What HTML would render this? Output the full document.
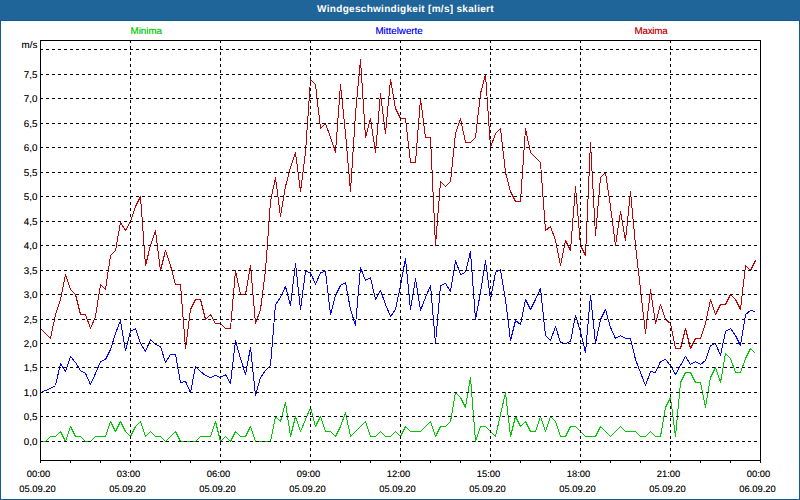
<!DOCTYPE html>
<html><head><meta charset="utf-8"><title>Windgeschwindigkeit</title>
<style>
html,body{margin:0;padding:0;}
body{text-rendering:geometricPrecision;width:800px;height:500px;overflow:hidden;background:#fff;font-family:"Liberation Sans",sans-serif;}
#wrap{position:relative;width:800px;height:500px;background:#fff;overflow:hidden;}
#hdr{position:absolute;left:0;top:0;width:800px;height:21px;background:#1f659a;border-bottom:1px solid #115b93;box-sizing:border-box;}
#ttl{position:absolute;left:0;top:3px;width:811px;text-align:center;color:#fff;font-weight:bold;font-size:10px;letter-spacing:0.3px;line-height:14px;white-space:nowrap;}
.bl{position:absolute;background:#115b93;}
.yl{text-shadow:0 0 0 rgba(0,0,0,0.4);position:absolute;left:0;width:37.4px;text-align:right;font-size:9.8px;line-height:13px;color:#000;white-space:nowrap;}
.xl{text-shadow:0 0 0 rgba(0,0,0,0.4);position:absolute;width:60px;text-align:center;font-size:9.4px;line-height:13px;color:#000;white-space:nowrap;}
.lg{position:absolute;top:25px;width:100px;text-align:center;font-size:9.8px;line-height:13px;white-space:nowrap;}
</style></head><body>
<div id="wrap">
<div id="hdr"></div>
<div id="ttl">Windgeschwindigkeit [m/s] skaliert</div>
<div class="bl" style="left:0;top:21px;width:1px;height:479px"></div>
<div class="bl" style="left:799px;top:21px;width:1px;height:479px"></div>
<div class="bl" style="left:0;top:499px;width:800px;height:1px"></div>
<div class="lg" style="left:96.3px;color:#00c800;text-shadow:0 0 0 rgba(0,200,0,0.5)">Minima</div>
<div class="lg" style="left:349.1px;color:#0000ff;text-shadow:0 0 0 rgba(0,0,255,0.5)">Mittelwerte</div>
<div class="lg" style="left:601px;letter-spacing:-0.2px;color:#c00000;text-shadow:0 0 0 rgba(192,0,0,0.5)">Maxima</div>
<svg width="800" height="500" viewBox="0 0 800 500" style="position:absolute;left:0;top:0" shape-rendering="crispEdges">
<polyline fill="none" stroke-linejoin="bevel" stroke="#00c800" stroke-width="1" points="40.5,441.5 45.5,441.5 50.5,436.5 55.5,436.5 60.5,431.5 65.5,441.5 70.5,426.5 75.5,436.5 80.5,436.5 85.5,441.5 90.5,441.5 95.5,436.5 100.5,436.5 105.5,436.5 110.5,421.5 115.5,431.5 120.5,421.5 125.5,431.5 130.5,436.5 135.5,426.5 140.5,421.5 145.5,436.5 150.5,431.5 155.5,436.5 160.5,436.5 165.5,441.5 170.5,436.5 175.5,431.5 180.5,441.5 185.5,441.5 190.5,441.5 195.5,441.5 200.5,436.5 205.5,436.5 210.5,436.5 215.5,421.5 220.5,441.5 225.5,436.5 230.5,441.5 235.5,431.5 240.5,436.5 245.5,436.5 250.5,426.5 255.5,441.5 260.5,441.5 265.5,441.5 270.5,441.5 275.5,416.5 280.5,421.5 285.5,402.5 290.5,436.5 295.5,416.5 300.5,431.5 305.5,419.5 310.5,407.5 315.5,426.5 320.5,416.5 325.5,431.5 330.5,431.5 335.5,436.5 340.5,426.5 345.5,412.5 350.5,436.5 355.5,431.5 360.5,426.5 365.5,421.5 370.5,436.5 375.5,436.5 380.5,431.5 385.5,436.5 390.5,436.5 395.5,431.5 400.5,436.5 405.5,426.5 410.5,431.5 415.5,431.5 420.5,431.5 425.5,426.5 430.5,421.5 435.5,436.5 440.5,426.5 445.5,426.5 450.5,421.5 455.5,392.5 460.5,397.5 465.5,407.5 470.5,377.5 475.5,441.5 480.5,426.5 485.5,426.5 490.5,431.5 495.5,436.5 500.5,414.5 505.5,392.5 510.5,436.5 515.5,416.5 520.5,426.5 525.5,421.5 530.5,431.5 535.5,431.5 540.5,416.5 545.5,431.5 550.5,416.5 555.5,421.5 560.5,436.5 565.5,436.5 570.5,426.5 575.5,426.5 580.5,431.5 585.5,436.5 590.5,436.5 595.5,436.5 600.5,426.5 605.5,431.5 610.5,436.5 615.5,431.5 620.5,426.5 625.5,431.5 630.5,431.5 635.5,431.5 640.5,436.5 645.5,436.5 650.5,431.5 655.5,436.5 660.5,436.5 665.5,407.5 670.5,397.5 675.5,436.5 680.5,382.5 685.5,372.5 690.5,372.5 695.5,382.5 700.5,382.5 705.5,407.5 710.5,377.5 715.5,367.5 720.5,382.5 725.5,353.5 730.5,358.5 735.5,372.5 740.5,372.5 745.5,358.5 750.5,348.5 755.5,353.5"/>
<polyline fill="none" stroke-linejoin="bevel" stroke="#0000ff" stroke-width="1" points="40.5,392.5 45.5,390.5 50.5,388.5 55.5,385.5 60.5,363.5 65.5,371.5 70.5,356.5 75.5,362.5 80.5,370.5 85.5,373.5 90.5,384.5 95.5,373.5 100.5,361.5 105.5,359.5 110.5,349.5 115.5,333.5 120.5,320.5 125.5,350.5 130.5,331.5 135.5,328.5 140.5,343.5 145.5,351.5 150.5,339.5 155.5,344.5 160.5,346.5 165.5,362.5 170.5,354.5 175.5,354.5 180.5,382.5 185.5,381.5 190.5,392.5 195.5,366.5 200.5,371.5 205.5,375.5 210.5,377.5 215.5,375.5 220.5,377.5 225.5,374.5 230.5,383.5 235.5,340.5 240.5,358.5 245.5,374.5 250.5,347.5 255.5,395.5 260.5,377.5 265.5,370.5 270.5,365.5 275.5,304.5 280.5,297.5 285.5,286.5 290.5,305.5 295.5,263.5 300.5,309.5 305.5,271.5 310.5,272.5 315.5,284.5 320.5,272.5 325.5,271.5 330.5,314.5 335.5,295.5 340.5,285.5 345.5,282.5 350.5,309.5 355.5,325.5 360.5,267.5 365.5,280.5 370.5,277.5 375.5,299.5 380.5,290.5 385.5,304.5 390.5,316.5 395.5,309.5 400.5,285.5 405.5,258.5 410.5,309.5 415.5,278.5 420.5,310.5 425.5,297.5 430.5,285.5 435.5,343.5 440.5,285.5 445.5,283.5 450.5,291.5 455.5,260.5 460.5,274.5 465.5,272.5 470.5,251.5 475.5,319.5 480.5,292.5 485.5,260.5 490.5,299.5 495.5,272.5 500.5,269.5 505.5,299.5 510.5,340.5 515.5,320.5 520.5,324.5 525.5,299.5 530.5,309.5 535.5,299.5 540.5,288.5 545.5,335.5 550.5,340.5 555.5,326.5 560.5,342.5 565.5,343.5 570.5,341.5 575.5,315.5 580.5,331.5 585.5,352.5 590.5,295.5 595.5,343.5 600.5,319.5 605.5,309.5 610.5,327.5 615.5,338.5 620.5,335.5 625.5,338.5 630.5,338.5 635.5,359.5 640.5,372.5 645.5,385.5 650.5,371.5 655.5,372.5 660.5,361.5 665.5,359.5 670.5,365.5 675.5,374.5 680.5,365.5 685.5,356.5 690.5,364.5 695.5,361.5 700.5,364.5 705.5,360.5 710.5,345.5 715.5,343.5 720.5,355.5 725.5,331.5 730.5,328.5 735.5,335.5 740.5,345.5 745.5,314.5 750.5,310.5 755.5,311.5"/>
<polyline fill="none" stroke-linejoin="bevel" stroke="#c00000" stroke-width="1" points="40.5,328.5 45.5,333.5 50.5,338.5 55.5,314.5 60.5,299.5 65.5,274.5 70.5,289.5 75.5,294.5 80.5,314.5 85.5,314.5 90.5,328.5 95.5,316.5 100.5,284.5 105.5,289.5 110.5,255.5 115.5,250.5 120.5,222.5 125.5,230.5 130.5,221.5 135.5,206.5 140.5,196.5 145.5,265.5 150.5,245.5 155.5,230.5 160.5,270.5 165.5,250.5 170.5,265.5 175.5,284.5 180.5,284.5 185.5,348.5 190.5,309.5 195.5,299.5 200.5,299.5 205.5,319.5 210.5,314.5 215.5,323.5 220.5,323.5 225.5,328.5 230.5,328.5 235.5,270.5 240.5,294.5 245.5,294.5 250.5,265.5 255.5,323.5 260.5,309.5 265.5,270.5 270.5,201.5 275.5,177.5 280.5,216.5 285.5,186.5 290.5,167.5 295.5,152.5 300.5,191.5 305.5,152.5 310.5,79.5 315.5,84.5 320.5,128.5 325.5,123.5 330.5,137.5 335.5,152.5 340.5,84.5 345.5,133.5 350.5,191.5 355.5,113.5 360.5,59.5 365.5,137.5 370.5,118.5 375.5,152.5 380.5,93.5 385.5,133.5 390.5,79.5 395.5,108.5 400.5,118.5 405.5,118.5 410.5,162.5 415.5,162.5 420.5,98.5 425.5,137.5 430.5,137.5 435.5,245.5 440.5,181.5 445.5,186.5 450.5,181.5 455.5,133.5 460.5,118.5 465.5,142.5 470.5,142.5 475.5,137.5 480.5,93.5 485.5,74.5 490.5,147.5 495.5,133.5 500.5,128.5 505.5,172.5 510.5,191.5 515.5,201.5 520.5,201.5 525.5,128.5 530.5,152.5 535.5,157.5 540.5,162.5 545.5,230.5 550.5,226.5 555.5,240.5 560.5,265.5 565.5,240.5 570.5,250.5 575.5,186.5 580.5,245.5 585.5,255.5 590.5,142.5 595.5,235.5 600.5,177.5 605.5,172.5 610.5,206.5 615.5,245.5 620.5,211.5 625.5,240.5 630.5,191.5 635.5,245.5 640.5,289.5 645.5,333.5 650.5,289.5 655.5,323.5 660.5,304.5 665.5,319.5 670.5,323.5 675.5,348.5 680.5,348.5 685.5,328.5 690.5,348.5 695.5,338.5 700.5,338.5 705.5,323.5 710.5,299.5 715.5,314.5 720.5,304.5 725.5,304.5 730.5,294.5 735.5,299.5 740.5,309.5 745.5,265.5 750.5,270.5 755.5,260.5"/>
<line x1="40" y1="441.5" x2="760" y2="441.5" stroke="#000" stroke-width="1" stroke-dasharray="3 3"/>
<line x1="40" y1="416.5" x2="760" y2="416.5" stroke="#000" stroke-width="1" stroke-dasharray="3 3"/>
<line x1="40" y1="392.5" x2="760" y2="392.5" stroke="#000" stroke-width="1" stroke-dasharray="3 3"/>
<line x1="40" y1="367.5" x2="760" y2="367.5" stroke="#000" stroke-width="1" stroke-dasharray="3 3"/>
<line x1="40" y1="343.5" x2="760" y2="343.5" stroke="#000" stroke-width="1" stroke-dasharray="3 3"/>
<line x1="40" y1="319.5" x2="760" y2="319.5" stroke="#000" stroke-width="1" stroke-dasharray="3 3"/>
<line x1="40" y1="294.5" x2="760" y2="294.5" stroke="#000" stroke-width="1" stroke-dasharray="3 3"/>
<line x1="40" y1="270.5" x2="760" y2="270.5" stroke="#000" stroke-width="1" stroke-dasharray="3 3"/>
<line x1="40" y1="245.5" x2="760" y2="245.5" stroke="#000" stroke-width="1" stroke-dasharray="3 3"/>
<line x1="40" y1="221.5" x2="760" y2="221.5" stroke="#000" stroke-width="1" stroke-dasharray="3 3"/>
<line x1="40" y1="196.5" x2="760" y2="196.5" stroke="#000" stroke-width="1" stroke-dasharray="3 3"/>
<line x1="40" y1="172.5" x2="760" y2="172.5" stroke="#000" stroke-width="1" stroke-dasharray="3 3"/>
<line x1="40" y1="147.5" x2="760" y2="147.5" stroke="#000" stroke-width="1" stroke-dasharray="3 3"/>
<line x1="40" y1="123.5" x2="760" y2="123.5" stroke="#000" stroke-width="1" stroke-dasharray="3 3"/>
<line x1="40" y1="98.5" x2="760" y2="98.5" stroke="#000" stroke-width="1" stroke-dasharray="3 3"/>
<line x1="40" y1="74.5" x2="760" y2="74.5" stroke="#000" stroke-width="1" stroke-dasharray="3 3"/>
<line x1="40" y1="49.5" x2="760" y2="49.5" stroke="#000" stroke-width="1" stroke-dasharray="3 3"/>
<line x1="130.5" y1="40" x2="130.5" y2="460" stroke="#000" stroke-width="1" stroke-dasharray="3 3"/>
<line x1="220.5" y1="40" x2="220.5" y2="460" stroke="#000" stroke-width="1" stroke-dasharray="3 3"/>
<line x1="310.5" y1="40" x2="310.5" y2="460" stroke="#000" stroke-width="1" stroke-dasharray="3 3"/>
<line x1="400.5" y1="40" x2="400.5" y2="460" stroke="#000" stroke-width="1" stroke-dasharray="3 3"/>
<line x1="490.5" y1="40" x2="490.5" y2="460" stroke="#000" stroke-width="1" stroke-dasharray="3 3"/>
<line x1="580.5" y1="40" x2="580.5" y2="460" stroke="#000" stroke-width="1" stroke-dasharray="3 3"/>
<line x1="670.5" y1="40" x2="670.5" y2="460" stroke="#000" stroke-width="1" stroke-dasharray="3 3"/>
<line x1="40.5" y1="460" x2="40.5" y2="463" stroke="#000" stroke-width="1"/>
<line x1="70.5" y1="460" x2="70.5" y2="463" stroke="#000" stroke-width="1"/>
<line x1="100.5" y1="460" x2="100.5" y2="463" stroke="#000" stroke-width="1"/>
<line x1="130.5" y1="460" x2="130.5" y2="463" stroke="#000" stroke-width="1"/>
<line x1="160.5" y1="460" x2="160.5" y2="463" stroke="#000" stroke-width="1"/>
<line x1="190.5" y1="460" x2="190.5" y2="463" stroke="#000" stroke-width="1"/>
<line x1="220.5" y1="460" x2="220.5" y2="463" stroke="#000" stroke-width="1"/>
<line x1="250.5" y1="460" x2="250.5" y2="463" stroke="#000" stroke-width="1"/>
<line x1="280.5" y1="460" x2="280.5" y2="463" stroke="#000" stroke-width="1"/>
<line x1="310.5" y1="460" x2="310.5" y2="463" stroke="#000" stroke-width="1"/>
<line x1="340.5" y1="460" x2="340.5" y2="463" stroke="#000" stroke-width="1"/>
<line x1="370.5" y1="460" x2="370.5" y2="463" stroke="#000" stroke-width="1"/>
<line x1="400.5" y1="460" x2="400.5" y2="463" stroke="#000" stroke-width="1"/>
<line x1="430.5" y1="460" x2="430.5" y2="463" stroke="#000" stroke-width="1"/>
<line x1="460.5" y1="460" x2="460.5" y2="463" stroke="#000" stroke-width="1"/>
<line x1="490.5" y1="460" x2="490.5" y2="463" stroke="#000" stroke-width="1"/>
<line x1="520.5" y1="460" x2="520.5" y2="463" stroke="#000" stroke-width="1"/>
<line x1="550.5" y1="460" x2="550.5" y2="463" stroke="#000" stroke-width="1"/>
<line x1="580.5" y1="460" x2="580.5" y2="463" stroke="#000" stroke-width="1"/>
<line x1="610.5" y1="460" x2="610.5" y2="463" stroke="#000" stroke-width="1"/>
<line x1="640.5" y1="460" x2="640.5" y2="463" stroke="#000" stroke-width="1"/>
<line x1="670.5" y1="460" x2="670.5" y2="463" stroke="#000" stroke-width="1"/>
<line x1="700.5" y1="460" x2="700.5" y2="463" stroke="#000" stroke-width="1"/>
<line x1="730.5" y1="460" x2="730.5" y2="463" stroke="#000" stroke-width="1"/>
<line x1="760.5" y1="460" x2="760.5" y2="463" stroke="#000" stroke-width="1"/>
<rect x="40.5" y="40.5" width="720" height="420" fill="none" stroke="#000" stroke-width="1"/>
</svg>
<div class="yl" style="top:436px">0,0</div>
<div class="yl" style="top:411px">0,5</div>
<div class="yl" style="top:387px">1,0</div>
<div class="yl" style="top:362px">1,5</div>
<div class="yl" style="top:338px">2,0</div>
<div class="yl" style="top:314px">2,5</div>
<div class="yl" style="top:289px">3,0</div>
<div class="yl" style="top:265px">3,5</div>
<div class="yl" style="top:240px">4,0</div>
<div class="yl" style="top:216px">4,5</div>
<div class="yl" style="top:191px">5,0</div>
<div class="yl" style="top:167px">5,5</div>
<div class="yl" style="top:142px">6,0</div>
<div class="yl" style="top:118px">6,5</div>
<div class="yl" style="top:93px">7,0</div>
<div class="yl" style="top:69px">7,5</div>
<div class="yl" style="top:39px">m/s</div>
<div class="xl" style="left:8.5px;top:467px">00:00</div>
<div class="xl" style="left:7.5px;top:482px">05.09.20</div>
<div class="xl" style="left:98.5px;top:467px">03:00</div>
<div class="xl" style="left:97.5px;top:482px">05.09.20</div>
<div class="xl" style="left:188.5px;top:467px">06:00</div>
<div class="xl" style="left:187.5px;top:482px">05.09.20</div>
<div class="xl" style="left:278.5px;top:467px">09:00</div>
<div class="xl" style="left:277.5px;top:482px">05.09.20</div>
<div class="xl" style="left:368.5px;top:467px">12:00</div>
<div class="xl" style="left:367.5px;top:482px">05.09.20</div>
<div class="xl" style="left:458.5px;top:467px">15:00</div>
<div class="xl" style="left:457.5px;top:482px">05.09.20</div>
<div class="xl" style="left:548.5px;top:467px">18:00</div>
<div class="xl" style="left:547.5px;top:482px">05.09.20</div>
<div class="xl" style="left:638.5px;top:467px">21:00</div>
<div class="xl" style="left:637.5px;top:482px">05.09.20</div>
<div class="xl" style="left:728.5px;top:467px">00:00</div>
<div class="xl" style="left:727.5px;top:482px">06.09.20</div>
</div>
</body></html>
